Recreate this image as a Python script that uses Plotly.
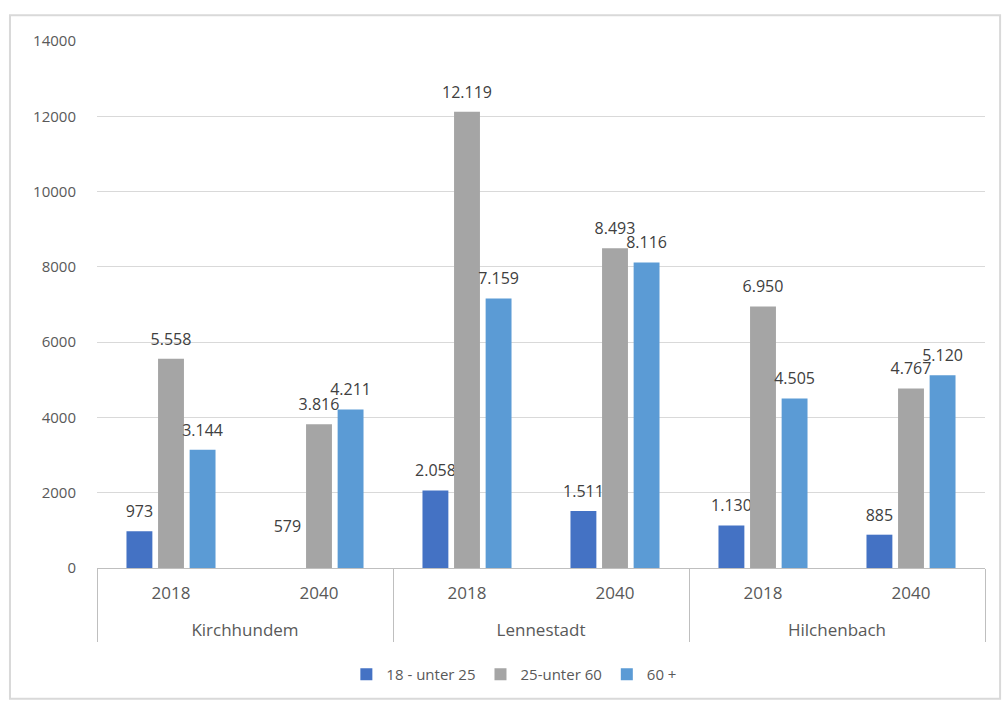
import plotly.graph_objects as go

towns = ["Kirchhundem", "Kirchhundem", "Lennestadt", "Lennestadt", "Hilchenbach", "Hilchenbach"]
years = ["2018", "2040", "2018", "2040", "2018", "2040"]
series_names = ["18 - unter 25", "25-unter 60", "60 +"]
age_18_25 = [973, 579, 2058, 1511, 1130, 885]
age_25_60 = [5558, 3816, 12119, 8493, 6950, 4767]
age_60p = [3144, 4211, 7159, 8116, 4505, 5120]
colors = ["#4472C4", "#A5A5A5", "#5B9BD5"]
y_ticks = [0, 2000, 4000, 6000, 8000, 10000, 12000, 14000]


def fmt(v):
    return f"{v:,}".replace(",", ".")


# year labels get an empty second line so the town row sits lower, as in the reference
year_labels = [y + "<br> " for y in years]

fig = go.Figure()
for name, vals, col in zip(series_names, [age_18_25, age_25_60, age_60p], colors):
    # the 579 bar is not visible in the reference (only its label)
    mcols = [col] * len(vals)
    if name == series_names[0]:
        mcols[1] = "rgba(0,0,0,0)"
    fig.add_trace(go.Bar(
        x=[towns, year_labels], y=vals, name=name,
        marker=dict(color=mcols, line=dict(width=0)),
        text=["<span style='font-size:16px'>" + fmt(v) + "</span><br> " for v in vals],
        textposition="outside",
        constraintext="none",
        textfont=dict(family="Open Sans, Liberation Sans, sans-serif", size=7, color="#404040"),
        cliponaxis=False,
    ))

fig.update_layout(
    width=1006, height=702,
    margin=dict(l=97, r=21, t=41, b=133),
    paper_bgcolor="white", plot_bgcolor="white",
    barmode="group", bargap=0.36, bargroupgap=0.18,
    font=dict(family="Open Sans, Liberation Sans, sans-serif", size=15, color="#595959"),
    showlegend=True,
    legend=dict(orientation="h", x=0.47, xanchor="center", y=-0.2, yanchor="middle",
                font=dict(size=15, color="#595959"), traceorder="normal", itemwidth=30),
    yaxis=dict(range=[0, 14000], tickvals=y_ticks, tickformat="d", showgrid=True,
               gridcolor="#D9D9D9", gridwidth=1, zeroline=False, showline=False,
               ticks="", ticklabelstandoff=20, tickfont=dict(size=15, color="#595959")),
    xaxis=dict(type="multicategory", showline=True, linecolor="#BFBFBF", linewidth=1,
               showdividers=True, dividercolor="#BFBFBF", dividerwidth=1,
               ticklabelstandoff=10,
               tickfont=dict(size=17, color="#595959"), ticks=""),
    shapes=[dict(type="rect", xref="paper", yref="paper",
                 x0=-0.098, x1=1.017, y0=-0.248, y1=1.049,
                 line=dict(color="#D9D9D9", width=2), fillcolor="rgba(0,0,0,0)", layer="below")],
)

fig.write_html("out.html")
